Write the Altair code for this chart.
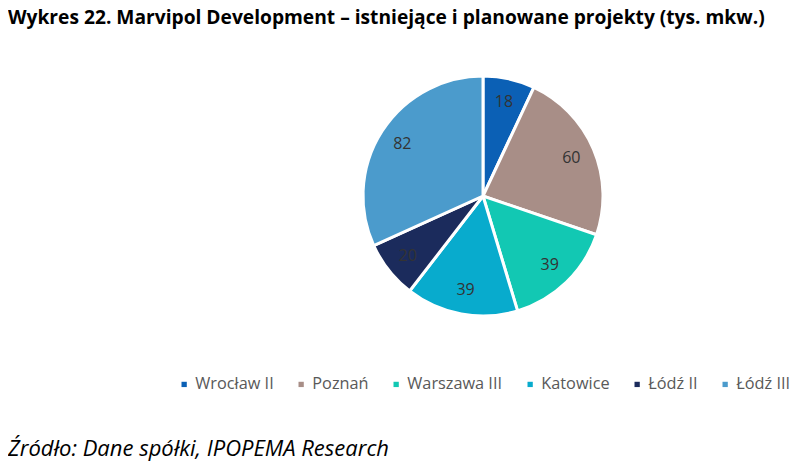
import altair as alt
import pandas as pd

categories = ["Wrocław II", "Poznań", "Warszawa III", "Katowice", "Łódź II", "Łódź III"]
values = [18, 60, 39, 39, 20, 82]
colors = ["#0b60b5", "#a88e87", "#12c8b3", "#08abcd", "#1b2b5c", "#4b9bcc"]

df = pd.DataFrame({"Projekt": categories, "Wartość": values, "order": list(range(len(values)))})

CX, CY = 475, 164

base = alt.Chart(df).encode(
    theta=alt.Theta("Wartość:Q", stack=True),
    order=alt.Order("order:Q"),
)

pie = base.mark_arc(outerRadius=120, stroke="white", strokeWidth=3).encode(
    x=alt.value(CX), y=alt.value(CY),
    color=alt.Color(
        "Projekt:N",
        sort=categories,
        scale=alt.Scale(domain=categories, range=colors),
        legend=alt.Legend(
            title=None, orient="none", direction="horizontal",
            legendX=168, legendY=344, padding=0,
            symbolType="square", symbolSize=28, symbolStrokeWidth=0,
            labelFont="Open Sans", labelFontSize=16.3, labelColor="#595959",
            columnPadding=19, labelOffset=3, labelLimit=300,
        ),
    ),
)

labels = base.mark_text(radius=96, font="Open Sans", fontSize=16, color="#333333").encode(
    x=alt.value(CX), y=alt.value(CY),
    text=alt.Text("Wartość:Q"),
)

source = alt.Chart(pd.DataFrame({"t": ["Źródło: Dane spółki, IPOPEMA Research"]})).mark_text(
    align="left", baseline="middle", font="Open Sans", fontSize=22, fontStyle="italic", color="#000000"
).encode(x=alt.value(0), y=alt.value(417), text="t:N")

chart = alt.layer(pie, labels, source).properties(
    width=784, height=453,
    autosize=alt.AutoSizeParams(type="fit", contains="padding"),
    padding=0,
    title=alt.Title(
        "Wykres 22. Marvipol Development – istniejące i planowane projekty (tys. mkw.)",
        anchor="start", frame="group", font="Open Sans", fontSize=19.2, fontWeight="bold",
        color="#000000", offset=4,
    ),
).configure_view(stroke=None)

chart.save("out.html", embed_options={"renderer": "svg", "actions": False})
